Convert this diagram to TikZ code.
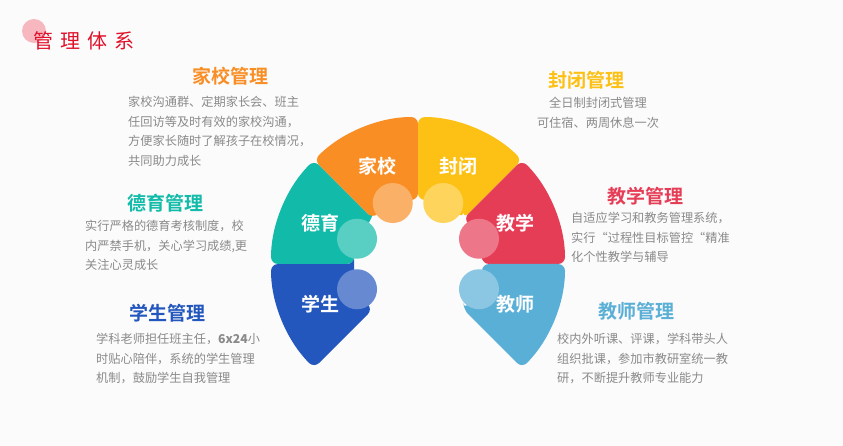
\documentclass[tikz,border=0pt]{standalone}
\usepackage{fontspec}
\setmainfont{Noto Sans CJK SC}
\newfontfamily\cjkb{Noto Sans CJK SC Bold}
\begin{document}
\begin{tikzpicture}[x=1pt,y=-1pt,
  body/.style={font=\fontsize{12.2}{19.5}\selectfont, text=txtgray, align=left, inner sep=0pt},
  head/.style={font=\cjkb\fontsize{19}{22}\selectfont, inner sep=0pt},
  seglabel/.style={font=\cjkb\fontsize{19}{22}\selectfont, text=white, inner sep=0pt}]
\definecolor{txtgray}{HTML}{8A8A8A}
\definecolor{cblue}{HTML}{2457BE}
\definecolor{cteal}{HTML}{12BBA9}
\definecolor{corange}{HTML}{F98E25}
\definecolor{cyellow}{HTML}{FDC116}
\definecolor{cred}{HTML}{E63D57}
\definecolor{clblue}{HTML}{5AAFD6}
\definecolor{ctitle}{HTML}{E0102A}
\fill[white!97!gray] (0,0) rectangle (843,446);
\useasboundingbox (0,0) rectangle (843,446);
% title
\fill[ctitle!30!white] (34,31) circle[radius=12];
\node[font=\fontsize{20}{22}\selectfont, text=ctitle, anchor=west, inner sep=0pt] (title) at (33,41) {管\hspace{7pt}理\hspace{7pt}体\hspace{7pt}系};
% ring
\begin{scope}[shift={(418,264)}]
\begin{scope}[y=1pt]
\foreach \a/\col/\lab/\nm in {180/cblue/学生/s1,135/cteal/德育/s2,90/corange/家校/s3,45/cyellow/封闭/s4,0/cred/教学/s5,-45/clblue/教师/s6}{
  \pgfmathsetmacro{\b}{\a+45}
  \pgfmathsetmacro{\m}{\a+22.5}
  \fill[\col, rounded corners=7pt] (\a:64) -- (\a:147) arc[start angle=\a, end angle=\b, radius=147] -- (\b:64) arc[start angle=\b, end angle=\a, radius=64] -- cycle;
  \begin{scope}
    \clip (0,0) -- (\a:160) -- (\m:320) -- (\b:160) -- cycle;
    \fill[\col!70!white] (\m:66) circle[radius=20];
  \end{scope}
  \node[seglabel] (\nm) at (\m:106) {\lab};
}
\end{scope}
\end{scope}
% texts
\node[head, text=corange] (h1) at (230,76) {家校管理};
\node[body, anchor=north west] (b1) at (128,96) {家校沟通群、定期家长会、班主\\任回访等及时有效的家校沟通，\\方便家长随时了解孩子在校情况，\\共同助力成长};
\node[head, text=cteal] (h2) at (165,203) {德育管理};
\node[body, anchor=north west] (b2) at (85,220) {实行严格的德育考核制度，校\\内严禁手机，关心学习成绩,更\\关注心灵成长};
\node[head, text=cblue] (h3) at (167,313) {学生管理};
\node[body, anchor=north west] (b3) at (96,333) {学科老师担任班主任，\textbf{6x24}小\\时贴心陪伴，系统的学生管理\\机制，鼓励学生自我管理};
\node[head, text=cyellow] (h4) at (586,80) {封闭管理};
\node[body, align=center, anchor=north] (b4) at (598,97) {全日制封闭式管理\\可住宿、两周休息一次};
\node[head, text=cred] (h5) at (645,196) {教学管理};
\node[body, anchor=north west] (b5) at (571,212) {自适应学习和教务管理系统，\\实行“过程性目标管控“精准\\化个性教学与辅导};
\node[head, text=clblue] (h6) at (636,311) {教师管理};
\node[body, anchor=north west] (b6) at (557,333) {校内外听课、评课，学科带头人\\组织批课，参加市教研室统一教\\研，不断提升教师专业能力};
\end{tikzpicture}
\end{document}
